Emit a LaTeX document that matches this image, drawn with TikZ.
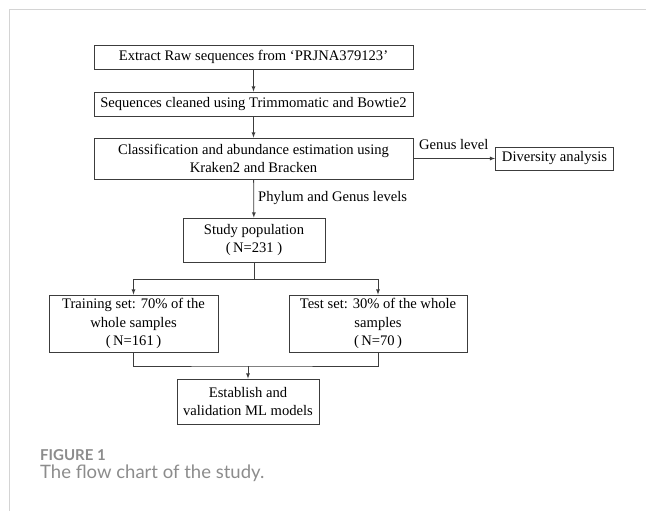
\documentclass[tikz,border=0pt]{standalone}
\usepackage{fontspec}
\setmainfont{Liberation Serif}
\newfontfamily\captionfont{Lato}
\usepackage{amsmath}
\usepackage{amssymb}

\definecolor{boxgray}{HTML}{3C3C3C}
\definecolor{framegray}{HTML}{D4D4D4}
\definecolor{captiongray}{HTML}{8C8C8C}

\begin{document}
\begin{tikzpicture}[x=1pt, y=-1pt, >=latex,
  flowbox/.style={draw=boxgray, line width=0.8pt, inner sep=0pt, align=center,
    font=\fontsize{14.6}{18.3}\selectfont, text=black},
  flowline/.style={draw=boxgray, line width=0.8pt},
  steplabel/.style={font=\fontsize{14.6}{18.3}\selectfont, inner sep=0pt}]

\useasboundingbox (0,0) rectangle (646,511);

% Draw page frame
\draw [framegray, line width=0.8pt] (9,511) -- (9,9) -- (646,9);

% Draw the boxes
\node [flowbox, minimum width=319, minimum height=24] (extract) at (253.5,57)
  {Extract Raw sequences from `PRJNA379123'};
\node [flowbox, minimum width=319, minimum height=24] (clean) at (253.5,104)
  {Sequences cleaned using Trimmomatic and Bowtie2};
\node [flowbox, minimum width=319, minimum height=41] (classify) at (253.5,158.5)
  {Classification and abundance estimation using\\Kraken2 and Bracken};
\node [flowbox, minimum width=118, minimum height=23] (diversity) at (554.5,158.5)
  {Diversity analysis};
\node [flowbox, minimum width=142, minimum height=44] (study) at (254,240)
  {Study population\\(\,N=231 )};
\node [flowbox, minimum width=169, minimum height=57] (train) at (133.5,323.5)
  {Training set: 70\% of the\\whole samples\\(\,N=161\,)};
\node [flowbox, minimum width=178, minimum height=57] (test) at (378,323.5)
  {Test set: 30\% of the whole\\samples\\(\,N=70\,)};
\node [flowbox, minimum width=142, minimum height=45] (model) at (248,401.5)
  {Establish and\\validation ML models};

\coordinate (split) at (254,279);
\coordinate (merge) at (248,366);

% Draw the connectors
\draw [flowline, ->] (extract) -- (clean);
\draw [flowline, ->] (clean) -- (classify);
\draw [flowline, ->] (classify.east) -- (diversity.west);
\node [steplabel, anchor=west] (genus) at (419,145) {Genus level};
\draw [flowline, ->] (classify) -- (study);
\node [steplabel, anchor=west] (levels) at (258,198) {Phylum and Genus levels};
\draw [flowline] (study) -- (split);
\draw [flowline, ->] (split) -| (train.north);
\draw [flowline, ->] (split) -| (test.north);
\draw [flowline] (train.south) |- (merge) -| (test.south);
\draw [flowline, ->] (merge) -- (model);

% Caption
\node [anchor=west, inner sep=0pt, text=captiongray, font=\captionfont\bfseries\fontsize{15}{18}\selectfont] (fignum) at (40,455) {FIGURE 1};
\node [anchor=west, inner sep=0pt, text=captiongray, font=\captionfont\fontsize{18.5}{22}\selectfont] (figcap) at (40,473) {The flow chart of the study.};

\end{tikzpicture}
\end{document}
